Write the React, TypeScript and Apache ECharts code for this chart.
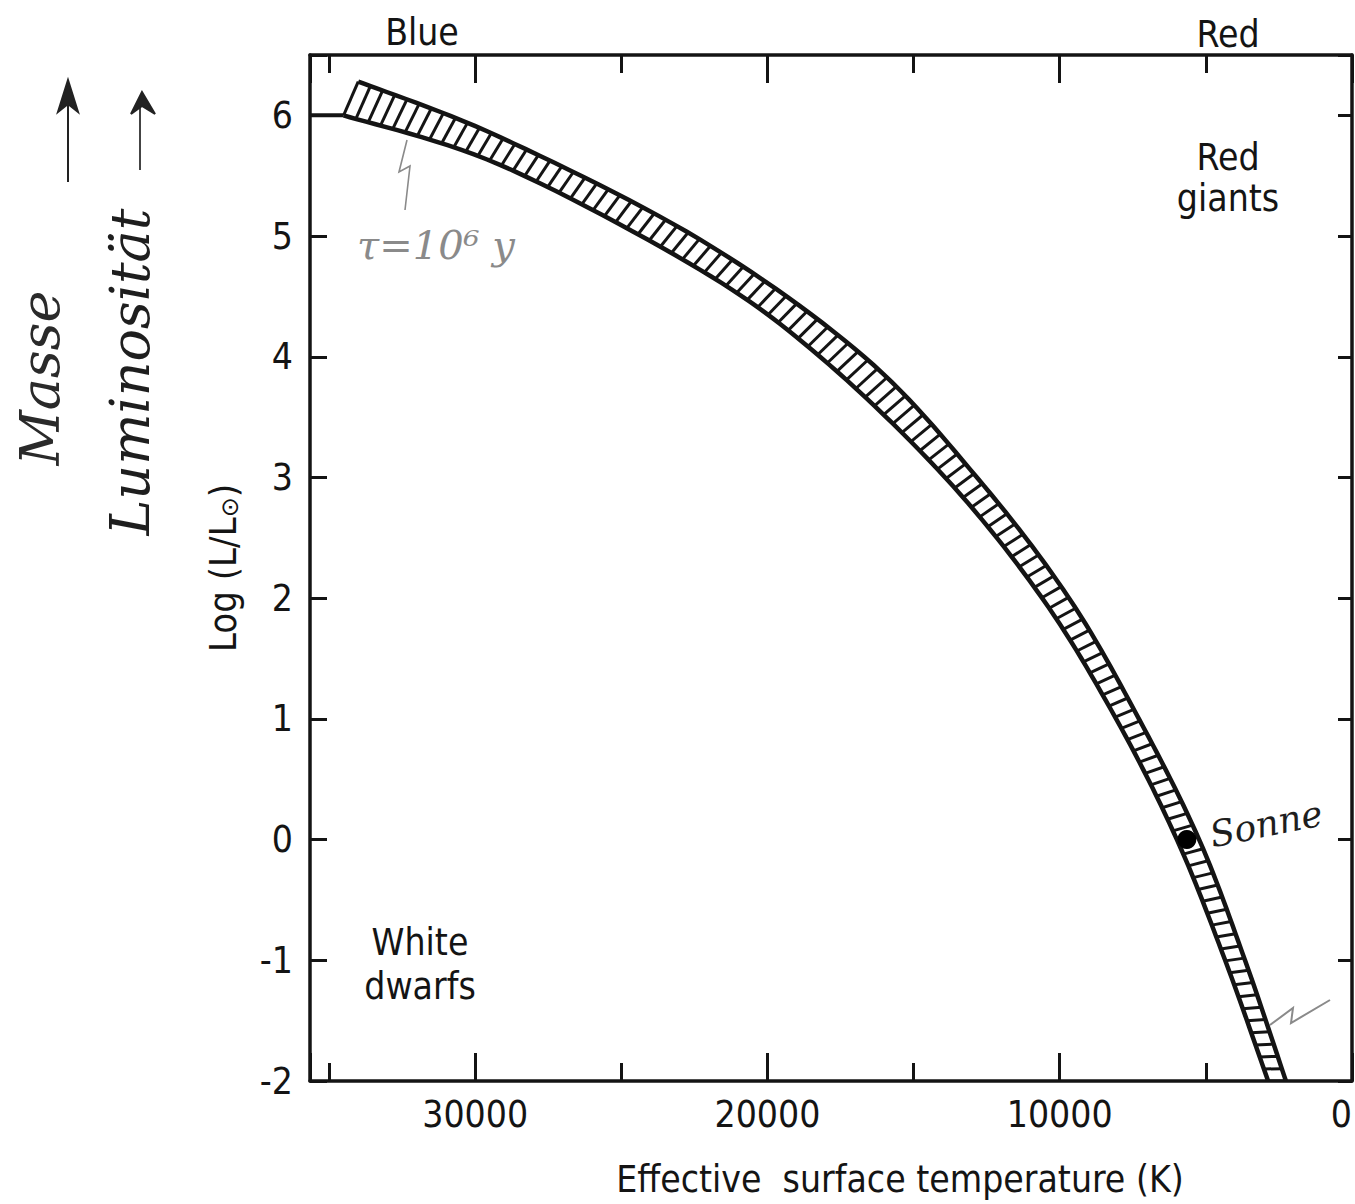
import React, { useEffect, useRef } from "react";
import * as echarts from "echarts";

// ---------- data ----------
// Lower (hot / faint) edge of the main-sequence band: temperature (K), log(L/Lsun)
const lowerTemp = [34500, 29150, 22300, 18200, 13920, 10600, 8070, 5990, 4340, 2870];
const lowerLogL = [6.0, 5.59, 4.72, 4.0, 3.0, 2.0, 1.0, 0.0, -1.0, -2.0];
// Upper (cool / bright) edge of the band
const upperTemp = [34000, 29150, 22300, 16690, 12830, 9680, 7290, 5230, 3660, 2260];
const upperLogL = [6.28, 5.82, 4.97, 4.0, 3.0, 2.0, 1.0, 0.0, -1.0, -2.0];
// Short horizontal stem joining the band to the axis at log L = 6
const stemTemp = [35650, 34500];
const stemLogL = [6.0, 6.0];
// The Sun
const sunTemp = [5650];
const sunLogL = [0];

const tempMin = 0;
const tempMax = 35650;
const lumMin = -2;
const lumMax = 6.5;

const INK = "#141414";
const PENCIL = "#8a8a8a";
const FONT = "Liberation Sans Narrow, DejaVu Sans Condensed, Roboto Condensed, Roboto, sans-serif";
const HAND = "DejaVu Serif, Liberation Serif, serif";
const HATCH_GAP = 12.8;

function spline(P: number[][]): number[][] {
  const out: number[][] = [P[0]];
  for (let i = 0; i < P.length - 1; i++) {
    const p0 = P[Math.max(0, i - 1)];
    const p1 = P[i];
    const p2 = P[i + 1];
    const p3 = P[Math.min(P.length - 1, i + 2)];
    for (let s = 1; s <= 14; s++) {
      const t = s / 14;
      const t2 = t * t;
      const t3 = t2 * t;
      out.push(
        [0, 1].map(
          (k) =>
            0.5 *
            (2 * p1[k] +
              (-p0[k] + p2[k]) * t +
              (2 * p0[k] - 5 * p1[k] + 4 * p2[k] - p3[k]) * t2 +
              (-p0[k] + 3 * p1[k] - 3 * p2[k] + p3[k]) * t3)
        )
      );
    }
  }
  return out;
}

function arc(pts: number[][]) {
  const cum = [0];
  for (let i = 1; i < pts.length; i++) {
    cum.push(cum[i - 1] + Math.hypot(pts[i][0] - pts[i - 1][0], pts[i][1] - pts[i - 1][1]));
  }
  const total = cum[cum.length - 1];
  return {
    total,
    at(f: number) {
      const d = f * total;
      let i = 1;
      while (i < cum.length - 1 && cum[i] < d) i++;
      const seg = cum[i] - cum[i - 1] || 1;
      const u = Math.min(1, Math.max(0, (d - cum[i - 1]) / seg));
      return [
        pts[i - 1][0] + (pts[i][0] - pts[i - 1][0]) * u,
        pts[i - 1][1] + (pts[i][1] - pts[i - 1][1]) * u,
      ];
    },
  };
}

const renderBand = (_params: any, api: any) => {
  const lowPx = lowerTemp.map((t, i) => api.coord([t, lowerLogL[i]]));
  const upPx = upperTemp.map((t, i) => api.coord([t, upperLogL[i]]));
  const lo = spline(lowPx);
  const up = spline(upPx);
  const A = arc(lo);
  const B = arc(up);
  const n = Math.round(Math.min(A.total, B.total) / HATCH_GAP);
  const children: any[] = [];
  for (let i = 0; i <= n; i++) {
    const p = A.at(i / n);
    const q = B.at(i / n);
    children.push({
      type: "line",
      shape: { x1: p[0], y1: p[1], x2: q[0], y2: q[1] },
      style: { stroke: INK, lineWidth: 3 },
    });
  }
  children.push({
    type: "polyline",
    shape: { points: lo },
    style: { stroke: INK, lineWidth: 4.5, fill: null, lineJoin: "round" },
  });
  children.push({
    type: "polyline",
    shape: { points: up },
    style: { stroke: INK, lineWidth: 4.5, fill: null, lineJoin: "round" },
  });
  return { type: "group", children };
};

const labelStyle = { fontFamily: FONT, fontSize: 37, fontWeight: 500, color: INK };

const majorTickX = (position: "top" | "bottom", labels: boolean) => ({
  type: "value",
  gridIndex: 0,
  position,
  inverse: true,
  min: tempMin,
  max: tempMax,
  interval: 10000,
  axisLine: { show: true, onZero: false, lineStyle: { color: INK, width: 3.5 } },
  axisTick: { show: true, inside: true, length: 28, lineStyle: { color: INK, width: 3 } },
  axisLabel: labels
    ? {
        show: true,
        margin: 15,
        ...labelStyle,
        alignMinLabel: "right",
        formatter: (v: number) => (v % 10000 === 0 ? String(v) : ""),
      }
    : { show: false },
  splitLine: { show: false },
});

const minorTickX = (position: "top" | "bottom") => ({
  type: "value",
  gridIndex: 0,
  position,
  inverse: true,
  min: tempMin,
  max: tempMax,
  interval: 5000,
  axisLine: { show: false, onZero: false },
  axisTick: { show: true, inside: true, length: 18, lineStyle: { color: INK, width: 3 } },
  axisLabel: { show: false },
  splitLine: { show: false },
});

const txt = (x: number, y: number, text: string, extra: any = {}) => ({
  type: "text",
  x,
  y,
  style: {
    text,
    fontFamily: FONT,
    fontSize: 37,
    fontWeight: 500,
    fill: INK,
    align: "center",
    verticalAlign: "middle",
    ...extra,
  },
});

export default function App() {
  const ref = useRef<HTMLDivElement>(null);

  useEffect(() => {
    if (!ref.current) return;
    const chart = echarts.init(ref.current, undefined, { renderer: "svg" });

    const option: any = {
      animation: false,
      backgroundColor: "#ffffff",
      grid: {
        left: 310,
        top: 55,
        width: 1042,
        height: 1026,
        containLabel: false,
        outerBoundsMode: "none",
      },
      xAxis: [
        {
          ...majorTickX("bottom", true),
          name: "Effective  surface temperature (K)",
          nameLocation: "middle",
          nameGap: 80,
          nameTextStyle: {
            fontFamily: FONT,
            fontSize: 37,
            fontWeight: 500,
            color: INK,
            padding: [0, 0, 0, 138],
          },
        },
        minorTickX("bottom"),
        majorTickX("top", false),
        minorTickX("top"),
      ],
      yAxis: [
        {
          type: "value",
          position: "left",
          min: lumMin,
          max: lumMax,
          interval: 1,
          axisLine: { show: true, onZero: false, lineStyle: { color: INK, width: 3.5 } },
          axisTick: { show: true, inside: true, length: 17, lineStyle: { color: INK, width: 3 } },
          axisLabel: {
            show: true,
            margin: 17,
            ...labelStyle,
            formatter: (v: number) => (Number.isInteger(v) ? String(v) : ""),
          },
          splitLine: { show: false },
          name: "Log (L/L{s|⊙})",
          nameLocation: "middle",
          nameGap: 68,
          nameRotate: 90,
          nameTextStyle: {
            fontFamily: FONT,
            fontSize: 38,
            fontWeight: 500,
            color: INK,
            rich: { s: { fontFamily: "DejaVu Sans", fontSize: 24, color: INK, padding: [14, 0, 0, 0] } },
          },
        },
        {
          type: "value",
          position: "right",
          min: lumMin,
          max: lumMax,
          interval: 1,
          axisLine: { show: true, onZero: false, lineStyle: { color: INK, width: 3.5 } },
          axisTick: { show: true, inside: true, length: 14, lineStyle: { color: INK, width: 3 } },
          axisLabel: { show: false },
          splitLine: { show: false },
        },
      ],
      series: [
        {
          name: "Main sequence",
          type: "custom",
          xAxisIndex: 0,
          yAxisIndex: 0,
          clip: true,
          silent: true,
          data: [[sunTemp[0], sunLogL[0]]],
          renderItem: renderBand,
          z: 3,
        },
        {
          name: "stem",
          type: "line",
          xAxisIndex: 0,
          yAxisIndex: 0,
          data: stemTemp.map((t, i) => [t, stemLogL[i]]),
          symbol: "none",
          lineStyle: { color: INK, width: 4 },
          z: 3,
        },
        {
          name: "Sonne",
          type: "scatter",
          xAxisIndex: 0,
          yAxisIndex: 0,
          data: sunTemp.map((t, i) => [t, sunLogL[i]]),
          symbol: "circle",
          symbolSize: 19,
          itemStyle: { color: "#000", opacity: 1 },
          z: 10,
        },
      ],
      graphic: [
        txt(422, 32, "Blue"),
        txt(1228, 34, "Red"),
        txt(1228, 157, "Red"),
        txt(1228, 198, "giants"),
        txt(420, 942, "White"),
        txt(420, 986, "dwarfs"),
        // handwritten notes
        {
          type: "text",
          x: 40,
          y: 378,
          rotation: Math.PI / 2,
          style: {
            text: "Masse",
            fontFamily: HAND,
            fontStyle: "italic",
            fontSize: 54,
            fill: "#2a2a2a",
            align: "center",
            verticalAlign: "middle",
          },
        },
        {
          type: "text",
          x: 130,
          y: 372,
          rotation: Math.PI / 2,
          style: {
            text: "Luminosität",
            fontFamily: HAND,
            fontStyle: "italic",
            fontSize: 54,
            fill: "#1e1e1e",
            align: "center",
            verticalAlign: "middle",
          },
        },
        { type: "line", shape: { x1: 68, y1: 100, x2: 68, y2: 182 }, style: { stroke: "#222", lineWidth: 2 } },
        {
          type: "polygon",
          shape: { points: [[68, 80], [58, 112], [68, 104], [78, 112]] },
          style: { fill: "#222", stroke: "#222", lineWidth: 2 },
        },
        { type: "line", shape: { x1: 140, y1: 105, x2: 140, y2: 170 }, style: { stroke: "#444", lineWidth: 2 } },
        {
          type: "polygon",
          shape: { points: [[142, 92], [131, 114], [142, 106], [155, 114]] },
          style: { fill: "#222", stroke: "#222", lineWidth: 2 },
        },
        {
          type: "text",
          x: 436,
          y: 245,
          style: {
            text: "τ=10⁶ y",
            fontFamily: HAND,
            fontStyle: "italic",
            fontSize: 40,
            fill: PENCIL,
            align: "center",
            verticalAlign: "middle",
          },
        },
        {
          type: "polyline",
          shape: { points: [[407, 140], [399, 172], [410, 166], [405, 210]] },
          style: { stroke: PENCIL, lineWidth: 1.6, fill: null },
        },
        {
          type: "text",
          x: 1266,
          y: 824,
          rotation: 0.2,
          style: {
            text: "Sonne",
            fontFamily: HAND,
            fontStyle: "italic",
            fontSize: 36,
            fill: "#1e1e1e",
            align: "center",
            verticalAlign: "middle",
          },
        },
        {
          type: "polyline",
          shape: { points: [[1270, 1025], [1293, 1008], [1291, 1023], [1330, 1000]] },
          style: { stroke: PENCIL, lineWidth: 2, fill: null },
        },
      ],
    };

    chart.setOption(option);
    return () => chart.dispose();
  }, []);

  return (
    <div
      ref={ref}
      style={{ position: "absolute", left: 0, top: 0, width: 1355, height: 1204, background: "#fff" }}
    />
  );
}
